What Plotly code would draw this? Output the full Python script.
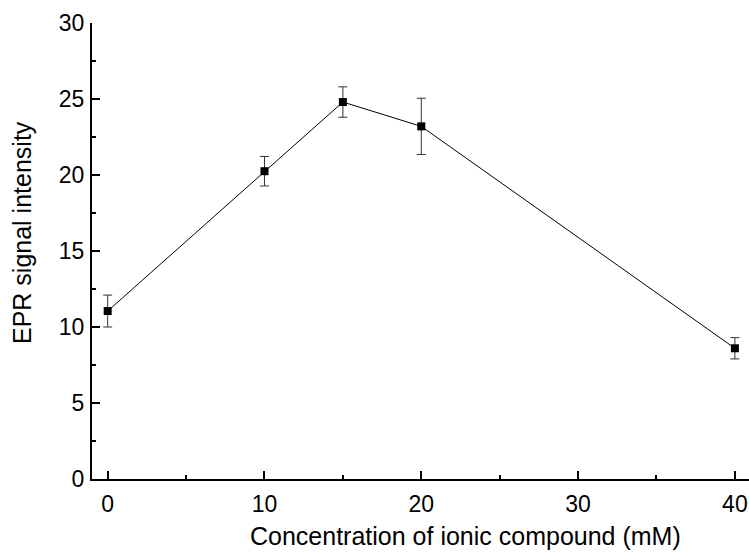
import plotly.graph_objects as go

concentration = [0, 10, 15, 20, 40]
intensity = [11.05, 20.25, 24.8, 23.2, 8.6]
error = [1.05, 0.97, 1.0, 1.85, 0.7]

x_ticks = [0, 10, 20, 30, 40]
y_ticks = [0, 5, 10, 15, 20, 25, 30]
x_title = "Concentration of ionic compound (mM)"
y_title = "EPR signal intensity"

fig = go.Figure()
fig.add_trace(go.Scatter(
    x=concentration, y=intensity,
    mode="lines+markers",
    line=dict(color="#000000", width=1),
    marker=dict(symbol="square", size=8, color="#000000"),
    error_y=dict(type="data", array=error, visible=True,
                 color="#333333", thickness=1, width=4.5),
    showlegend=False,
))

font = "Liberation Sans, Arial, sans-serif"
L, R, T, B = 92, 0, 23, 75
W, H = 749, 554
pw = W - L - R
ph = H - T - B
fig.update_layout(
    width=W, height=H,
    margin=dict(l=L, r=R, t=T, b=B),
    plot_bgcolor="white", paper_bgcolor="white",
    font=dict(family=font, color="#000000", size=23),
)
fig.update_xaxes(
    range=[-1.0, 40.9],
    tickvals=x_ticks, ticktext=[str(v) for v in x_ticks],
    ticks="inside", ticklen=8, tickwidth=2, tickcolor="#000000",
    minor=dict(ticks="inside", ticklen=4, tickwidth=2, dtick=5, tick0=0, tickcolor="#000000"),
    showline=True, linecolor="#000000", linewidth=2,
    showgrid=False, zeroline=False,
    tickfont=dict(size=23, family=font),
    ticklabelstandoff=3,
)
fig.update_yaxes(
    range=[0, 30],
    tickvals=y_ticks, ticktext=[str(v) for v in y_ticks],
    ticks="inside", ticklen=8, tickwidth=2, tickcolor="#000000",
    minor=dict(ticks="inside", ticklen=4, tickwidth=2, dtick=2.5, tick0=0, tickcolor="#000000"),
    showline=True, linecolor="#000000", linewidth=2,
    showgrid=False, zeroline=False,
    tickfont=dict(size=23, family=font),
    ticklabelstandoff=1,
)
fig.add_annotation(
    text=x_title, xref="paper", yref="paper",
    x=(465 - L) / pw, y=(H - B - 536) / ph,
    xanchor="center", yanchor="middle", showarrow=False,
    font=dict(size=25, family=font, color="#000000"),
)
fig.add_annotation(
    text=y_title, xref="paper", yref="paper", textangle=-90,
    x=(22.5 - L) / pw, y=(H - B - 232.5) / ph,
    xanchor="center", yanchor="middle", showarrow=False,
    font=dict(size=25, family=font, color="#000000"),
)

fig.write_html("out.html")
